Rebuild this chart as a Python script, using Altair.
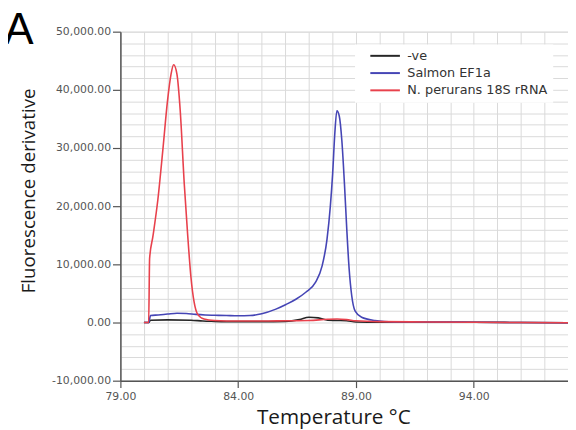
import altair as alt
import pandas as pd

# ---- data ----
neg_temp = [80.0, 80.2, 80.28, 81.0, 82.0, 82.5, 83.0, 84.0, 85.0, 86.0, 86.6, 87.0,
            87.4, 87.8, 88.2, 88.6, 89.0, 90.0, 92.0, 94.0, 96.0, 98.0]
neg_val = [0, 0, 400, 450, 400, 250, 200, 150, 150, 200, 500, 900,
           800, 400, 350, 300, 100, 50, 50, 50, 0, -50]

ef1a_temp = [80.0, 80.2, 80.28, 80.6, 81.0, 81.4, 81.8, 82.2, 82.6, 83.0, 83.5, 84.0,
             84.5, 85.0, 85.6, 86.03, 86.45, 86.87, 87.28, 87.56, 87.77, 87.91, 88.01,
             88.10, 88.19, 88.29, 88.40, 88.51, 88.61, 88.71, 88.82, 88.96, 89.24, 89.8,
             90.6, 92.0, 94.0, 96.0, 98.0]
ef1a_val = [0, 0, 1200, 1300, 1450, 1600, 1550, 1400, 1300, 1250, 1200, 1150,
            1200, 1500, 2300, 3100, 4000, 5200, 6900, 9700, 14300, 19900, 25600,
            32400, 36400, 35500, 31300, 23900, 16000, 9200, 4600, 2000, 900, 350,
            100, 100, 50, 0, -50]

rrna_temp = [80.0, 80.2, 80.24, 80.38, 80.59, 80.80, 81.0, 81.15, 81.26, 81.40, 81.54,
             81.71, 81.85, 81.99, 82.13, 82.27, 82.55, 83.0, 84.0, 85.0, 86.0, 87.0,
             87.8, 88.2, 88.6, 89.0, 90.0, 92.0, 94.0, 96.0, 98.0]
rrna_val = [0, 0, 11000, 14800, 21100, 29600, 38100, 42700, 44300, 42700, 36400,
            23900, 15400, 8000, 3500, 1500, 600, 350, 250, 250, 300, 350,
            550, 600, 500, 300, 150, 100, 50, 0, -50]

series_names = ["-ve", "Salmon EF1a", "N. perurans 18S rRNA"]
series_colors = ["#262626", "#4545b5", "#e8414c"]

x_grid = [79, 80, 81, 82, 83, 84, 85, 86, 87, 88, 89, 90, 91, 92, 93, 94, 95, 96, 97, 98]
y_grid = [-10000, -8000, -6000, -4000, -2000, 0, 2000, 4000, 6000, 8000, 10000, 12000,
          14000, 16000, 18000, 20000, 22000, 24000, 26000, 28000, 30000, 32000, 34000,
          36000, 38000, 40000, 42000, 44000, 46000, 48000, 50000]

rows = []
for name, ts, vs in [(series_names[0], neg_temp, neg_val),
                     (series_names[1], ef1a_temp, ef1a_val),
                     (series_names[2], rrna_temp, rrna_val)]:
    for i, (t, v) in enumerate(zip(ts, vs)):
        rows.append({"series": name, "temp": t, "value": v, "order": i})
df = pd.DataFrame(rows)

x_axis = alt.Axis(
    values=x_grid,
    labelExpr="(datum.value - 79) % 5 === 0 ? format(datum.value, '.2f') : ''",
    labelOverlap=False, labelFlush=False, labelBound=False,
    labelFont="DejaVu Sans", labelFontSize=11, labelColor="#555555", labelPadding=3,
    tickSize=7, tickColor="#555555", tickWidth=1.2,
    tickOpacity={"condition": {"test": "(datum.value - 79) % 5 === 0", "value": 1}, "value": 0},
    domainColor="#555555", domainWidth=1.5,
    grid=True, gridColor="#d9d9d9", gridWidth=1,
    title="Temperature °C", titleFont="Open Sans", titleFontSize=21,
    titleFontWeight="normal", titleColor="#1a1a1a",
    titleX=216, titleY=43, titleBaseline="alphabetic", titleAnchor="middle",
)
y_axis = alt.Axis(
    values=y_grid,
    labelExpr="datum.value % 10000 === 0 ? replace(format(datum.value, ',.2f'), '\u2212', '-') : ''",
    labelOverlap=False, labelBound=False,
    labelFont="DejaVu Sans", labelFontSize=11, labelColor="#555555", labelPadding=2,
    tickSize=8, tickColor="#555555", tickWidth=1.2,
    tickOpacity={"condition": {"test": "datum.value % 10000 === 0", "value": 1}, "value": 0},
    domainColor="#555555", domainWidth=1.5,
    grid=True, gridColor="#d9d9d9", gridWidth=1,
    title="Fluorescence derivative", titleFont="Open Sans", titleFontSize=19,
    titleFontWeight="normal", titleColor="#1a1a1a",
    titleX=-87, titleY=161, titleBaseline="alphabetic", titleAnchor="middle", titleAngle=-90,
)

lines = alt.Chart(df).mark_line(strokeWidth=1.6, interpolate="monotone").encode(
    x=alt.X("temp:Q", scale=alt.Scale(domain=[79, 98], nice=False, zero=False), axis=x_axis),
    y=alt.Y("value:Q", scale=alt.Scale(domain=[-10000, 50000], nice=False, zero=False), axis=y_axis),
    color=alt.Color(
        "series:N",
        scale=alt.Scale(domain=series_names, range=series_colors),
        legend=alt.Legend(
            title=None, orient="none", legendX=238, legendY=13,
            symbolType="M-3,0H3", symbolSize=100, symbolStrokeWidth=2,
            symbolOffset=19,
            labelFont="DejaVu Sans", labelFontSize=13, labelColor="#333333",
            fillColor="white", padding=5, rowPadding=3.5, labelOffset=16,
        ),
    ),
    order="order:Q",
    detail="series:N",
)

letter = alt.Chart(pd.DataFrame({"t": ["A"]})).mark_text(
    font="Liberation Sans", fontSize=45, align="left", baseline="alphabetic", color="#000000"
).encode(text="t:N", x=alt.value(-118), y=alt.value(13))

chart = alt.layer(lines, letter).properties(
    width=454, height=354,
    autosize=alt.AutoSizeParams(type="none"),
    padding={"left": 114, "top": 21, "right": 0, "bottom": 47},
).configure_view(stroke=None).configure(background="white")

chart.save("out.html", embed_options={"renderer": "svg", "actions": False})
